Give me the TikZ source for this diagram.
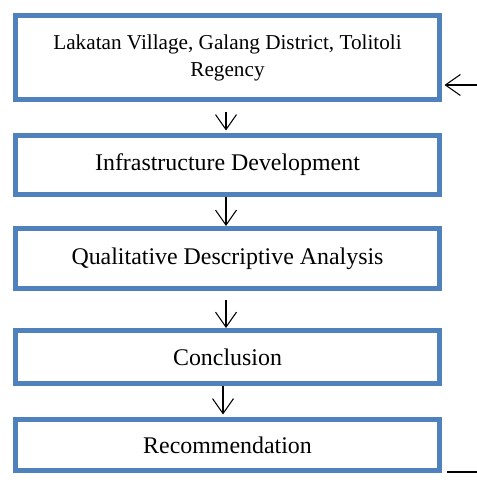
\documentclass[tikz,border=0pt]{standalone}
\usepackage{fontspec}
\setmainfont{Liberation Serif}
\usetikzlibrary{arrows.meta, positioning}

\definecolor{boxBlue}{RGB}{79,129,189}

\begin{document}
\begin{tikzpicture}[
		stage/.style = {draw = boxBlue, line width = 0.1cm, minimum width = 8.48cm, inner sep = 0pt, align = center, font = \fontsize{13.6}{16}\selectfont},
		flow/.style = {line width = 0.6pt, -{Straight Barb[length = 0.3cm, width = 0.42cm]}},
	]

		% picture frame
		\useasboundingbox (0, 0) rectangle (9.54, 9.96);

		% research stages
		\node[stage, minimum height = 1.68cm, font = \fontsize{12.07}{15.4}\selectfont] (village) at (4.55, 8.81) {Lakatan Village, Galang District, Tolitoli\\Regency};
		\node[stage, minimum height = 1.18cm] (infra) at (4.55, 6.66) {Infrastructure Development};
		\node[stage, minimum height = 1.20cm] (analysis) at (4.55, 4.79) {Qualitative Descriptive Analysis};
		\node[stage, minimum height = 1.06cm] (conclusion) at (4.55, 2.82) {Conclusion};
		\node[stage, minimum height = 1.02cm] (recommend) at (4.55, 1.06) {Recommendation};

		% loose ends on the right
		\coordinate (feedIn) at (9.54, 8.26);
		\coordinate (feedOut) at (9.54, 0.52);
		\coordinate (feedOutEnd) at (8.94, 0.52);

		% flow between stages
		\draw[flow, shorten < = 0.21cm, shorten > = 0.05cm] ([xshift = -0.03cm]village.south) -- ([xshift = -0.03cm]infra.north);
		\draw[flow] ([xshift = -0.03cm]infra.south) -- ([xshift = -0.03cm]analysis.north);
		\draw[flow, shorten < = 0.19cm] ([xshift = -0.03cm]analysis.south) -- ([xshift = -0.03cm]conclusion.north);
		\draw[flow, shorten > = 0.05cm] ([xshift = -0.09cm]conclusion.south) -- ([xshift = -0.09cm]recommend.north);

		% feedback line
		\draw[flow, shorten > = 0.05cm] (feedIn) -- (village.east |- feedIn);
		\draw[line width = 0.6pt] (feedOutEnd) -- (feedOut);

	\end{tikzpicture}
\end{document}
